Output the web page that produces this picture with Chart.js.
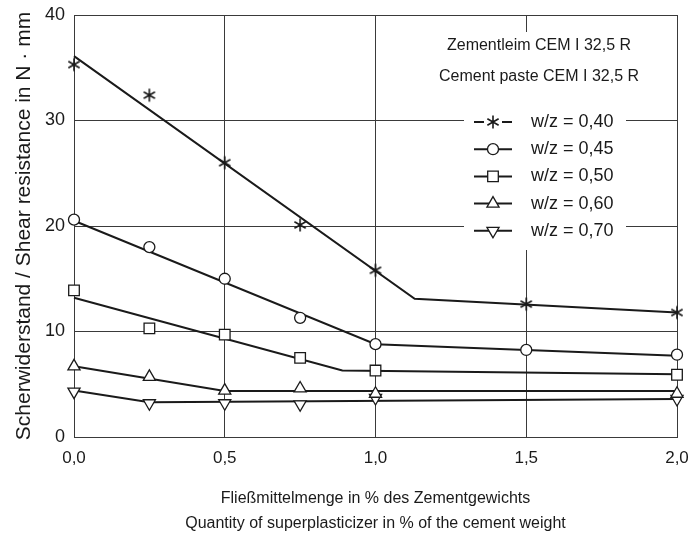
<!DOCTYPE html>
<html>
<head>
<meta charset="utf-8">
<script src="https://cdn.jsdelivr.net/npm/chart.js@4/dist/chart.umd.min.js"></script>
<style>
  html, body { margin: 0; padding: 0; background: #fff; }
  #wrap { width: 693px; height: 540px; }
</style>
</head>
<body>
<div id="wrap"><canvas id="shearChart"></canvas></div>
<script>
// Scherwiderstand von Zementleim abhängig von der Fließmittelmenge

const xValues = [0, 0.25, 0.5, 0.75, 1.0, 1.5, 2.0];
const xTickLabels = ['0,0', '0,5', '1,0', '1,5', '2,0'];
const yTickLabels = ['0', '10', '20', '30', '40'];

const seriesLabels = ['w/z = 0,40', 'w/z = 0,45', 'w/z = 0,50', 'w/z = 0,60', 'w/z = 0,70'];

// measured points (null = not measured)
const wz040 = [35.3, 32.4, 26.0, 20.1, 15.8, 12.6, 11.8];
const wz045 = [20.6, 18.0, 15.0, 11.3, 8.8, 8.25, 7.8];
const wz050 = [13.9, 10.3, 9.7, 7.5, 6.3, null, 5.9];
const wz060 = [6.7, 5.7, 4.4, 4.6, 4.1, null, 4.1];
const wz070 = [4.3, 3.2, 3.2, 3.1, 3.7, null, 3.6];

// fitted lines (knee points)
const fit040x = [0, 1.13, 2.0];
const fit040y = [36.1, 13.1, 11.8];
const fit045x = [0, 1.0, 2.0];
const fit045y = [20.5, 8.8, 7.7];
const fit050x = [0, 0.89, 2.0];
const fit050y = [13.2, 6.3, 5.95];
const fit060x = [0, 0.5, 2.0];
const fit060y = [6.7, 4.35, 4.35];
const fit070x = [0, 0.25, 2.0];
const fit070y = [4.4, 3.3, 3.6];

const subtitleLines = ['Zementleim CEM I 32,5 R', 'Cement paste CEM I 32,5 R'];
const xTitleLines = ['Fließmittelmenge in % des Zementgewichts', 'Quantity of superplasticizer in % of the cement weight'];
const yTitle = 'Scherwiderstand / Shear resistance in N \u00b7 mm';

const FONT = "'Liberation Sans', Arial, Helvetica, sans-serif";
const INK = '#1a1a1a';
const GRID = '#3a3a3a';

// six-armed asterisk marker
function makeStar(r) {
    const size = Math.ceil(r * 2 + 3);
    const c = document.createElement('canvas');
    c.width = size; c.height = size;
    const g = c.getContext('2d');
    const m = size / 2;
    g.strokeStyle = INK;
    g.lineWidth = 1.6;
    g.beginPath();
    for (let i = 0; i < 3; i++) {
        const a = Math.PI / 2 + i * Math.PI / 3;
        g.moveTo(m + Math.cos(a) * r, m - Math.sin(a) * r);
        g.lineTo(m - Math.cos(a) * r, m + Math.sin(a) * r);
    }
    g.stroke();
    return c;
}
const starImg = makeStar(6.5);

const markerStyles = [starImg, 'circle', 'rect', 'triangle', 'triangle'];
const markerRotation = [0, 0, 0, 0, 180];
const markerRadius = [6.5, 5.5, 7.5, 7, 7];
const pointSeries = [wz040, wz045, wz050, wz060, wz070];
const fitSeries = [[fit040x, fit040y], [fit045x, fit045y], [fit050x, fit050y], [fit060x, fit060y], [fit070x, fit070y]];

function toPoints(xs, ys) {
    const pts = [];
    xs.forEach((x, i) => { if (ys[i] !== null) pts.push({ x: x, y: ys[i] }); });
    return pts;
}

const datasets = [];
fitSeries.forEach((f, i) => {
    datasets.push({
        label: seriesLabels[i] + ' fit',
        data: toPoints(f[0], f[1]),
        borderColor: INK,
        borderWidth: 2,
        pointRadius: 0,
        fill: false,
        tension: 0,
        clip: false,
        order: 2
    });
});
pointSeries.forEach((ys, i) => {
    datasets.push({
        label: seriesLabels[i],
        data: toPoints(xValues, ys),
        showLine: false,
        pointStyle: markerStyles[i],
        rotation: markerRotation[i],
        pointRadius: markerRadius[i],
        pointBackgroundColor: '#fff',
        pointBorderColor: INK,
        pointBorderWidth: 1.3,
        clip: false,
        order: 1
    });
});

// legend box drawn inside the plot
const legendPlugin = {
    id: 'wzLegend',
    beforeDatasetsDraw(chart) {
        const ctx = chart.ctx;
        const a = chart.chartArea;
        ctx.save();
        ctx.fillStyle = '#fff';
        ctx.fillRect(a.right - 213, a.top + 17, 162, 218);
        ctx.restore();
    },
    afterDatasetsDraw(chart) {
        const ctx = chart.ctx;
        const a = chart.chartArea;
        ctx.save();
        ctx.fillStyle = INK;
        ctx.textAlign = 'center';
        ctx.textBaseline = 'middle';
        ctx.font = '16px ' + FONT;
        subtitleLines.forEach((t, i) => {
            ctx.fillText(t, a.right - 138, a.top + 31 + i * 31);
        });
        const mx = a.right - 184;
        seriesLabels.forEach((lab, i) => {
            const y = a.top + 107 + i * 27.2;
            ctx.strokeStyle = INK;
            ctx.lineWidth = 2;
            ctx.beginPath();
            if (i === 0) {
                ctx.moveTo(mx - 19, y); ctx.lineTo(mx - 9, y);
                ctx.moveTo(mx + 9, y); ctx.lineTo(mx + 19, y);
            } else {
                ctx.moveTo(mx - 19, y); ctx.lineTo(mx + 19, y);
            }
            ctx.stroke();
            ctx.fillStyle = '#fff';
            ctx.strokeStyle = INK;
            ctx.lineWidth = 1.3;
            Chart.helpers.drawPoint(ctx, {
                pointStyle: markerStyles[i],
                rotation: markerRotation[i],
                radius: markerRadius[i],
                borderWidth: 1.3
            }, mx, y);
            ctx.fillStyle = INK;
            ctx.textAlign = 'left';
            ctx.font = '18px ' + FONT;
            ctx.fillText(lab, a.right - 146, y);
        });
        ctx.restore();
    }
};

document.addEventListener('DOMContentLoaded', function() {
    const ctx = document.getElementById('shearChart').getContext('2d');
    new Chart(ctx, {
        type: 'line',
        data: { datasets: datasets },
        options: {
            responsive: true,
            maintainAspectRatio: false,
            animation: false,
            layout: { padding: { top: 15, right: 16, left: 0, bottom: 0 } },
            plugins: {
                legend: { display: false },
                tooltip: { enabled: false }
            },
            scales: {
                x: {
                    type: 'linear',
                    min: 0,
                    max: 2,
                    afterFit: s => { s.height = 103; s.paddingLeft = 0; s.paddingRight = 0; },
                    ticks: {
                        stepSize: 0.5,
                        padding: 11,
                        color: INK,
                        font: { family: FONT, size: 17 },
                        maxRotation: 0,
                        callback: (v) => xTickLabels[Math.round(v / 0.5)]
                    },
                    grid: { color: GRID, lineWidth: 1, drawTicks: false },
                    border: { color: GRID, width: 1 },
                    title: {
                        display: true,
                        text: xTitleLines,
                        color: INK,
                        font: { family: FONT, size: 16, lineHeight: 1.55 },
                        padding: { top: 16 }
                    }
                },
                y: {
                    type: 'linear',
                    min: 0,
                    max: 40,
                    afterFit: s => { s.width = 74; s.paddingTop = 0; s.paddingBottom = 0; },
                    ticks: {
                        stepSize: 10,
                        padding: 9,
                        color: INK,
                        font: { family: FONT, size: 18 },
                        callback: (v) => yTickLabels[Math.round(v / 10)]
                    },
                    grid: { color: GRID, lineWidth: 1, drawTicks: false },
                    border: { color: GRID, width: 1 },
                    title: {
                        display: true,
                        text: yTitle,
                        color: INK,
                        font: { family: FONT, size: 21 },
                        padding: { top: 12, bottom: 0 }
                    }
                }
            }
        },
        plugins: [legendPlugin]
    });
});
</script>
</body>
</html>
